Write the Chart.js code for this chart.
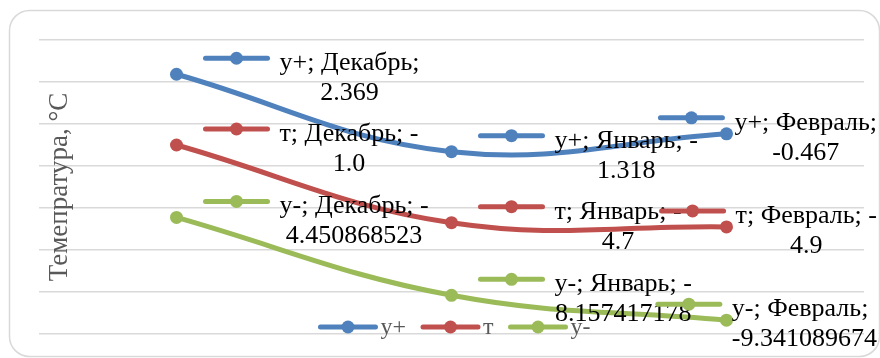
<!DOCTYPE html>
<html>
<head>
<meta charset="utf-8">
<script src="https://cdn.jsdelivr.net/npm/chart.js@4.4.0/dist/chart.umd.min.js"></script>
<style>
  html, body { margin: 0; padding: 0; background: #fff; }
  #wrap { width: 880px; height: 358px; }
</style>
</head>
<body>
<div id="wrap"><canvas id="temp-chart"></canvas></div>
<script>
var months = ["Декабрь", "Январь", "Февраль"];
var seriesNames = ["у+", "т", "у-"];
var yPlus = [2.369, -1.318, -0.467];
var tMid = [-1.0, -4.7, -4.9];
var yMinus = [-4.450868523, -8.157417178, -9.341089674];
var yMin = -10, yMax = 4, yStep = 2;

var SERIF = "'Liberation Serif', 'Times New Roman', serif";
var LABEL_WRAP = 150;

// wrap after the minus sign when that still fits, otherwise before the value
function splitLabel(ctx, name, month, value) {
  var head = name + "; " + month + ";";
  if (value.charAt(0) === "-" && ctx.measureText(head + " -").width <= LABEL_WRAP) {
    return [head + " -", value.slice(1)];
  }
  return [head, value];
}

function drawKey(ctx, x, y, color, len) {
  ctx.strokeStyle = color;
  ctx.fillStyle = color;
  ctx.lineWidth = 5;
  ctx.lineCap = "round";
  ctx.beginPath();
  ctx.moveTo(x, y);
  ctx.lineTo(x + len, y);
  ctx.stroke();
  ctx.beginPath();
  ctx.arc(x + len / 2, y, 6.5, 0, Math.PI * 2);
  ctx.fill();
}

// white card with a rounded grey frame
var frame = {
  id: "frame",
  beforeDraw: function (chart) {
    var ctx = chart.ctx;
    ctx.save();
    ctx.fillStyle = "#fff";
    ctx.fillRect(0, 0, chart.width, chart.height);
    ctx.strokeStyle = "#d9d9d9";
    ctx.lineWidth = 1.5;
    ctx.beginPath();
    ctx.roundRect(9.5, 10.5, 870, 346, 20);
    ctx.stroke();
    ctx.restore();
  }
};

// legend sits inside the plot, near the bottom
var bottomLegend = {
  id: "bottomLegend",
  afterDatasetsDraw: function (chart) {
    var ctx = chart.ctx;
    var area = chart.chartArea;
    ctx.save();
    ctx.font = "24px " + SERIF;
    var items = chart.data.datasets.map(function (ds) {
      return { ds: ds, w: 55 + 5 + ctx.measureText(ds.label).width };
    });
    var gap = 17;
    var total = items.reduce(function (s, it) { return s + it.w; }, 0) + gap * (items.length - 1);
    var x = (area.left + area.right) / 2 + 4 - total / 2;
    var y = 327;
    items.forEach(function (it) {
      drawKey(ctx, x, y, it.ds.borderColor, 55);
      ctx.fillStyle = "#595959";
      ctx.textBaseline = "middle";
      ctx.textAlign = "left";
      ctx.fillText(it.ds.label, x + 60, y + 1);
      x += it.w + gap;
    });
    ctx.restore();
  }
};

// "series; month; value" labels with a key to the right of each point
var pointLabels = {
  id: "pointLabels",
  afterDatasetsDraw: function (chart) {
    var ctx = chart.ctx;
    var rightEdge = 877;
    ctx.save();
    ctx.font = "26px " + SERIF;
    chart.data.datasets.forEach(function (ds, i) {
      var meta = chart.getDatasetMeta(i);
      meta.data.forEach(function (pt, j) {
        var lines = splitLabel(ctx, ds.label, months[j], ds.format(ds.data[j]));
        var w = Math.max(ctx.measureText(lines[0]).width, ctx.measureText(lines[1]).width);
        var keyX = pt.x + 30;
        if (keyX + 73 + w > rightEdge) keyX = rightEdge - 73 - w;
        drawKey(ctx, keyX - 1, pt.y - 16, ds.borderColor, 62);
        var textX = keyX + 73;
        ctx.fillStyle = "#000";
        ctx.textBaseline = "alphabetic";
        ctx.textAlign = "left";
        ctx.fillText(lines[0], textX, pt.y - 4);
        ctx.textAlign = "center";
        ctx.fillText(lines[1], textX + w / 2, pt.y + 26);
      });
    });
    ctx.restore();
  }
};

new Chart(document.getElementById("temp-chart").getContext("2d"), {
  type: "line",
  data: {
    labels: months,
    datasets: [
      {
        label: seriesNames[0],
        data: yPlus,
        borderColor: "#4F81BD",
        pointBackgroundColor: "#4F81BD",
        format: function (v) { return String(v); }
      },
      {
        label: seriesNames[1],
        data: tMid,
        borderColor: "#C0504D",
        pointBackgroundColor: "#C0504D",
        format: function (v) { return v.toFixed(1); }
      },
      {
        label: seriesNames[2],
        data: yMinus,
        borderColor: "#9BBB59",
        pointBackgroundColor: "#9BBB59",
        format: function (v) { return String(v); }
      }
    ]
  },
  options: {
    responsive: true,
    maintainAspectRatio: false,
    animation: false,
    layout: { padding: { left: 39, right: 16, top: 40, bottom: 24 } },
    elements: {
      line: { borderWidth: 5, tension: 0.4, borderCapStyle: "round" },
      point: { radius: 6.5, borderWidth: 0, hoverRadius: 6.5 }
    },
    plugins: {
      legend: { display: false },
      tooltip: { enabled: false }
    },
    scales: {
      x: { display: false, offset: true },
      y: {
        min: yMin,
        max: yMax,
        ticks: { display: false, stepSize: yStep },
        grid: { color: "#d9d9d9", lineWidth: 1.5, drawTicks: false },
        border: { display: false },
        title: {
          display: true,
          text: "Темепратура, °С",
          color: "#595959",
          font: { family: SERIF, size: 27 },
          padding: { top: 5, bottom: 0 }
        },
        afterFit: function (scale) { scale.width = 0; }
      }
    }
  },
  plugins: [frame, bottomLegend, pointLabels]
});
</script>
</body>
</html>
